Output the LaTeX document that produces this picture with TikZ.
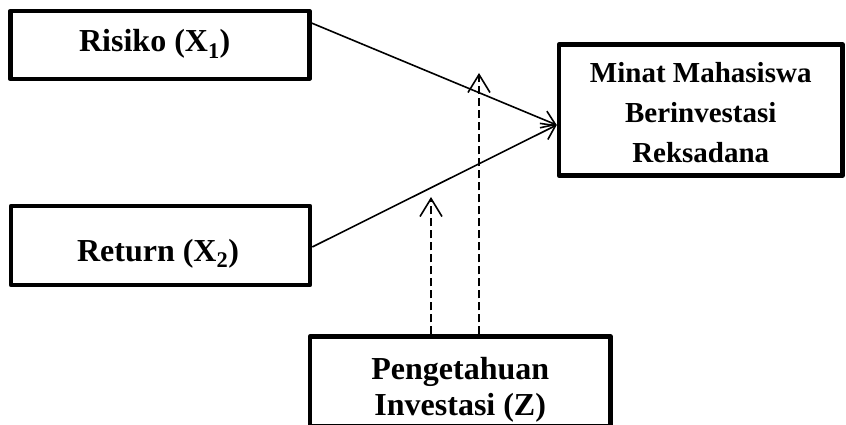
\documentclass[tikz,border=0pt]{standalone}
\usepackage{fontspec}
\setmainfont{Liberation Serif}
\usetikzlibrary{arrows.meta,calc}
\begin{document}
\begin{tikzpicture}[x=1pt,y=-1pt,
  box/.style={draw, line width=4.5pt, line join=round, inner sep=0pt,
    font=\bfseries\fontsize{32}{33}\selectfont, align=center},
  conn/.style={line width=1.6pt,
    -{Straight Barb[length=13pt,width=18pt,line width=1.6pt]}},
  modline/.style={line width=1.6pt, dash pattern=on 8pt off 4pt,
    -{Straight Barb[length=18pt,width=22pt,line width=1.6pt]}}]
\useasboundingbox (0,0) rectangle (846,425);
\node[box, minimum width=299pt, minimum height=68pt, text height=22pt, text depth=8pt]
  (r) at (159.75,45) {Risiko (X\textsubscript{1})\hspace*{10pt}};
\node[box, minimum width=299pt, minimum height=79pt, text height=36pt, text depth=4pt]
  (t) at (160.5,245.5) {Return (X\textsubscript{2})\hspace*{5pt}};
\node[box, minimum width=283.5pt, minimum height=131pt,
  font=\bfseries\fontsize{29}{40}\selectfont]
  (m) at (700.75,110) {\rule{0pt}{26pt}Minat Mahasiswa\\Berinvestasi\\Reksadana};
\node[box, minimum width=300.5pt, minimum height=89.5pt]
  (z) at (460.25,381.25) {\rule{0pt}{40pt}Pengetahuan\\[3pt]Investasi (Z)};
\coordinate (d1) at (431,197);
\coordinate (d2) at (479,73);
\draw[conn] ($(r.east)+(0,-22)$) -- ($(m.west)+(0,15)$);
\draw[conn] ($(t.east)+(0,1.5)$) -- ($(m.west)+(0,15)$);
\draw[modline] (z.north -| d1) -- (d1);
\draw[modline] (z.north -| d2) -- (d2);
\end{tikzpicture}
\end{document}
